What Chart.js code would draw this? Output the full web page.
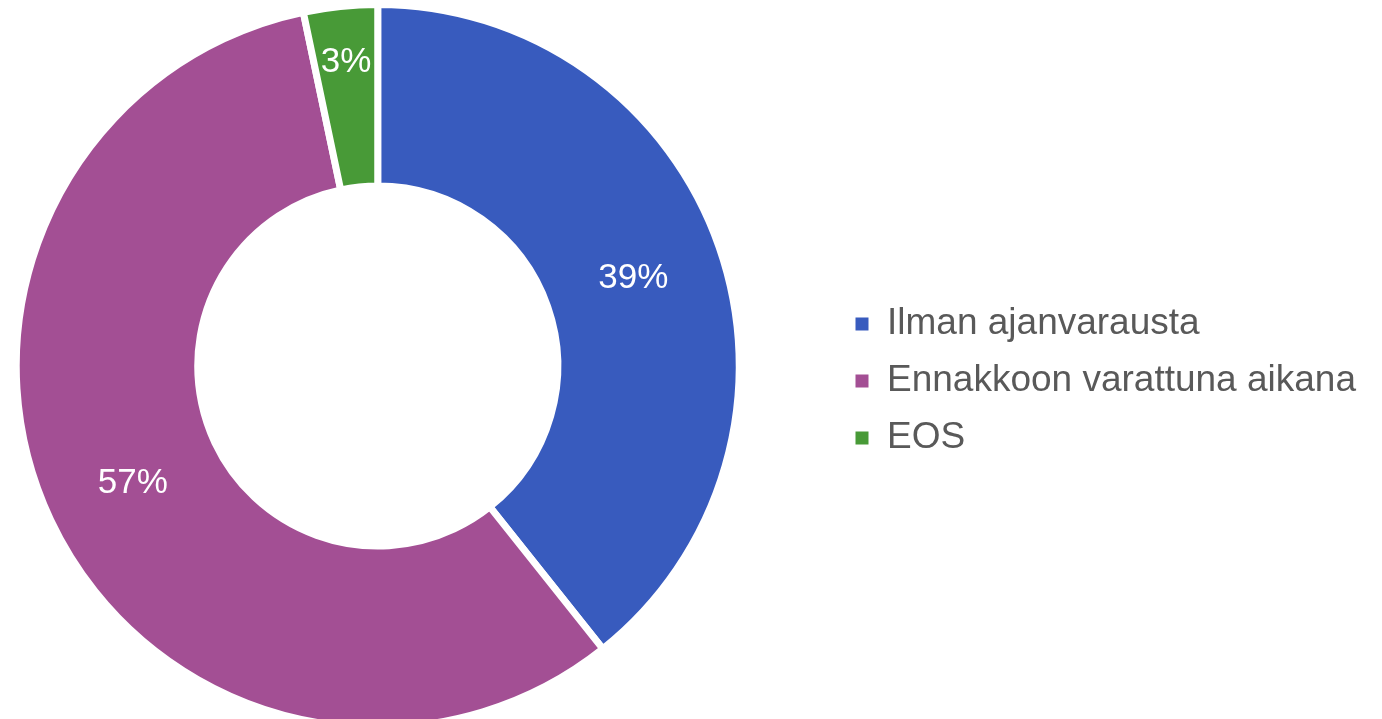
<!DOCTYPE html>
<html>
<head>
<meta charset="utf-8">
<script src="https://cdn.jsdelivr.net/npm/chart.js@4.4.1/dist/chart.umd.min.js"></script>
<style>
  html, body { margin: 0; padding: 0; background: #fff; overflow: hidden; }
  body { width: 1382px; height: 719px; position: relative; }
  .chart-box { position: absolute; left: -80px; top: 0; width: 1470px; height: 730px; }
</style>
</head>
<body>
<div class="chart-box"><canvas id="chart"></canvas></div>
<script>
const categories = ["Ilman ajanvarausta", "Ennakkoon varattuna aikana", "EOS"];
const shares = [39.3, 57.4, 3.3];
const colors = ["#385BBE", "#A34F94", "#489A37"];

// percentage labels inside each slice (the thin slice gets its label nearer the rim)
const sliceLabels = {
  id: "sliceLabels",
  afterDatasetsDraw(chart, args, opts) {
    const ctx = chart.ctx;
    const meta = chart.getDatasetMeta(0);
    const total = shares.reduce((s, v) => s + v, 0);
    const where = opts.radial || [];
    ctx.save();
    ctx.fillStyle = "#ffffff";
    ctx.font = "35px 'Liberation Sans', Arial, sans-serif";
    ctx.textAlign = "center";
    ctx.textBaseline = "middle";
    meta.data.forEach((arc, i) => {
      const p = arc.getProps(["x", "y", "startAngle", "endAngle", "innerRadius", "outerRadius"]);
      const mid = (p.startAngle + p.endAngle) / 2;
      const r = p.innerRadius + (p.outerRadius - p.innerRadius) * (where[i] ?? 0.5);
      ctx.fillText(Math.round(shares[i] / total * 100) + "%",
        p.x + Math.cos(mid) * r, p.y + Math.sin(mid) * r + 2);
    });
    ctx.restore();
  }
};

new Chart(document.getElementById("chart").getContext("2d"), {
  type: "doughnut",
  data: {
    labels: categories,
    datasets: [{
      data: shares,
      backgroundColor: colors,
      borderColor: "#ffffff",
      borderWidth: 7
    }]
  },
  options: {
    responsive: true,
    maintainAspectRatio: false,
    animation: false,
    radius: 361.5,
    cutout: 179.5,
    layout: { padding: { top: 2, right: 24, bottom: 0, left: 0 } },
    plugins: {
      tooltip: { enabled: false },
      sliceLabels: { radial: [0.5, 0.5, 0.7] },
      legend: {
        display: true,
        position: "right",
        title: { display: true, text: "", font: { size: 10 }, padding: 9 },
        labels: {
          boxWidth: 13,
          boxHeight: 13,
          padding: 20,
          color: "#595959",
          font: { size: 37, family: "'Liberation Sans', Arial, sans-serif" },
          generateLabels(chart) {
            const items = Chart.overrides.doughnut.plugins.legend.labels.generateLabels(chart);
            return items.map(it => ({ ...it, lineWidth: 0, strokeStyle: it.fillStyle }));
          }
        }
      }
    }
  },
  plugins: [sliceLabels]
});
</script>
</body>
</html>
